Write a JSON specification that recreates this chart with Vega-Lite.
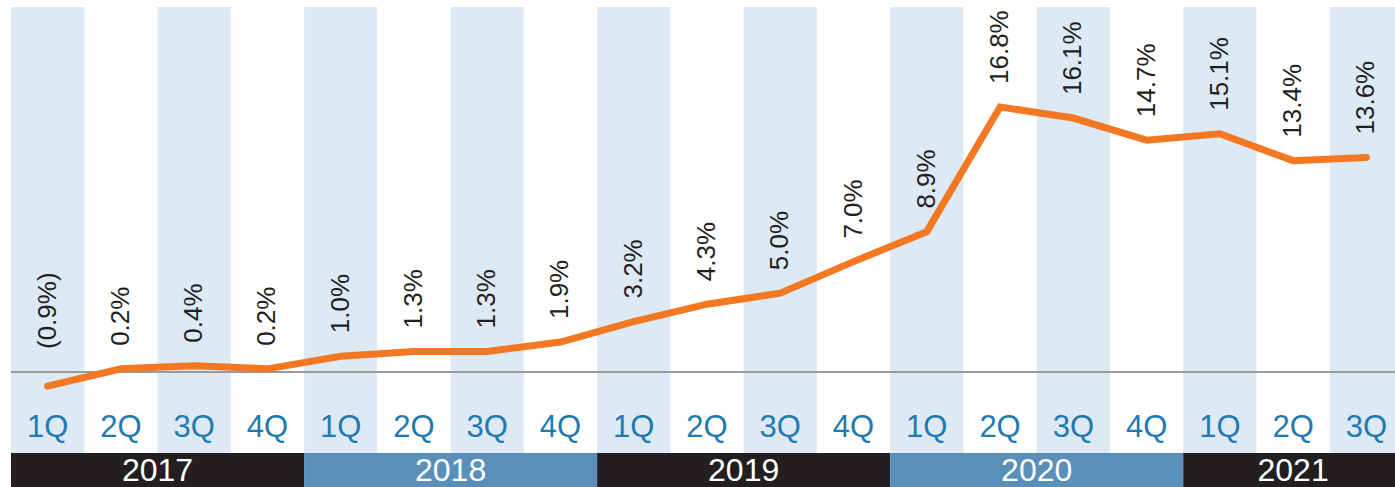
{
  "$schema": "https://vega.github.io/schema/vega-lite/v6.json",
  "autosize": {"type": "none"},
  "padding": {"left": 11, "top": 7, "right": 0, "bottom": 0},
  "background": "white",
  "width": 1392,
  "height": 480,
  "config": {"view": {"stroke": null}},
  "data": {"values": [
      {"key": "2017 1Q", "q": "1Q", "v": -0.9, "label": "(0.9%)"},
      {"key": "2017 2Q", "q": "2Q", "v": 0.2, "label": "0.2%"},
      {"key": "2017 3Q", "q": "3Q", "v": 0.4, "label": "0.4%"},
      {"key": "2017 4Q", "q": "4Q", "v": 0.2, "label": "0.2%"},
      {"key": "2018 1Q", "q": "1Q", "v": 1.0, "label": "1.0%"},
      {"key": "2018 2Q", "q": "2Q", "v": 1.3, "label": "1.3%"},
      {"key": "2018 3Q", "q": "3Q", "v": 1.3, "label": "1.3%"},
      {"key": "2018 4Q", "q": "4Q", "v": 1.9, "label": "1.9%"},
      {"key": "2019 1Q", "q": "1Q", "v": 3.2, "label": "3.2%"},
      {"key": "2019 2Q", "q": "2Q", "v": 4.3, "label": "4.3%"},
      {"key": "2019 3Q", "q": "3Q", "v": 5.0, "label": "5.0%"},
      {"key": "2019 4Q", "q": "4Q", "v": 7.0, "label": "7.0%"},
      {"key": "2020 1Q", "q": "1Q", "v": 8.9, "label": "8.9%"},
      {"key": "2020 2Q", "q": "2Q", "v": 16.8, "label": "16.8%"},
      {"key": "2020 3Q", "q": "3Q", "v": 16.1, "label": "16.1%"},
      {"key": "2020 4Q", "q": "4Q", "v": 14.7, "label": "14.7%"},
      {"key": "2021 1Q", "q": "1Q", "v": 15.1, "label": "15.1%"},
      {"key": "2021 2Q", "q": "2Q", "v": 13.4, "label": "13.4%"},
      {"key": "2021 3Q", "q": "3Q", "v": 13.6, "label": "13.6%"}
  ]},
  "resolve": {"scale": {"x": "independent"}},
  "layer": [
    {
      "transform": [{"filter": "datum.q == '1Q' || datum.q == '3Q'"}],
      "mark": {"type": "rect", "color": "#dde9f5"},
      "encoding": {
        "x": {"field": "key", "type": "nominal", "sort": null, "axis": null,
              "scale": {"domain": ["2017 1Q","2017 2Q","2017 3Q","2017 4Q","2018 1Q","2018 2Q","2018 3Q","2018 4Q","2019 1Q","2019 2Q","2019 3Q","2019 4Q","2020 1Q","2020 2Q","2020 3Q","2020 4Q","2021 1Q","2021 2Q","2021 3Q"],
                        "paddingInner": 0, "paddingOuter": 0}},
        "y": {"datum": 23.14, "type": "quantitative", "axis": null,
              "scale": {"domain": [-7.29, 23.14], "nice": false, "zero": false}},
        "y2": {"datum": -5.135}
      }
    },
    {
      "mark": {"type": "rule", "color": "#9a9a9a", "strokeWidth": 1},
      "encoding": {"y": {"datum": 0, "type": "quantitative"}}
    },
    {
      "mark": {"type": "line", "color": "#f47721", "strokeWidth": 7, "strokeCap": "round", "strokeJoin": "miter"},
      "encoding": {
        "x": {"field": "key", "type": "nominal", "sort": null, "axis": null,
              "scale": {"paddingInner": 0, "paddingOuter": 0}},
        "y": {"field": "v", "type": "quantitative"}
      }
    },
    {
      "transform": [{"calculate": "max(datum.v, 0)", "as": "lp"}],
      "mark": {"type": "text", "angle": 270, "align": "left", "baseline": "middle", "dx": 23,
               "font": "Liberation Sans", "fontSize": 26, "fontWeight": "normal", "color": "#231f20"},
      "encoding": {
        "x": {"field": "key", "type": "nominal", "sort": null, "axis": null,
              "scale": {"paddingInner": 0, "paddingOuter": 0}},
        "y": {"field": "lp", "type": "quantitative"},
        "text": {"field": "label"}
      }
    },
    {
      "mark": {"type": "text", "align": "center", "baseline": "middle",
               "font": "Liberation Sans", "fontSize": 31, "color": "#1f7ab0"},
      "encoding": {
        "x": {"field": "key", "type": "nominal", "sort": null, "axis": null,
              "scale": {"paddingInner": 0, "paddingOuter": 0}},
        "y": {"datum": -3.55, "type": "quantitative"},
        "text": {"field": "q"}
      }
    },
    {
      "data": {"values": [
        {"year": "2017", "start": 0, "end": 4},
        {"year": "2018", "start": 4, "end": 8},
        {"year": "2019", "start": 8, "end": 12},
        {"year": "2020", "start": 12, "end": 16},
        {"year": "2021", "start": 16, "end": 19}
      ]},
      "layer": [
        {
          "mark": {"type": "rect"},
          "encoding": {
            "x": {"field": "start", "type": "quantitative", "axis": null,
                  "scale": {"domain": [0, 19], "nice": false, "zero": false}},
            "x2": {"field": "end"},
            "y": {"datum": -5.135, "type": "quantitative"},
            "y2": {"datum": -7.29},
            "color": {"field": "year", "type": "nominal", "legend": null,
                      "scale": {"domain": ["2017", "2018", "2019", "2020", "2021"],
                                "range": ["#231f20", "#5a8fba", "#231f20", "#5a8fba", "#231f20"]}}
          }
        },
        {
          "transform": [{"calculate": "(datum.start + datum.end) / 2", "as": "mid"}],
          "mark": {"type": "text", "align": "center", "baseline": "middle",
                   "font": "Liberation Sans", "fontSize": 32, "color": "white"},
          "encoding": {
            "x": {"field": "mid", "type": "quantitative", "axis": null,
                  "scale": {"domain": [0, 19], "nice": false, "zero": false}},
            "y": {"datum": -6.3, "type": "quantitative"},
            "text": {"field": "year"}
          }
        }
      ]
    }
  ]
}
